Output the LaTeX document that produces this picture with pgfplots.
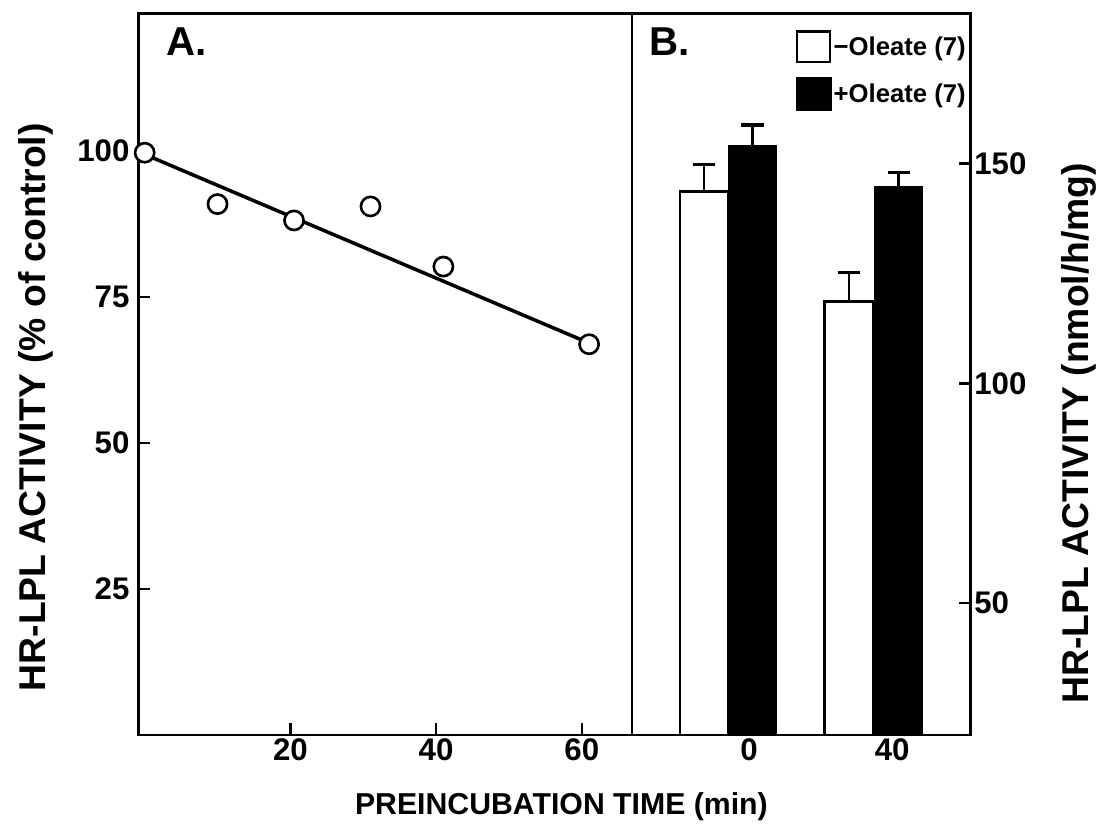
\documentclass[border=0pt]{standalone}
\usepackage{fontspec}
\setmainfont{Liberation Sans}
\usepackage{pgfplots}
\pgfplotsset{compat=1.18}

\pgfplotsset{
  panel/.style={
    scale only axis,
    axis line style={line width=2.8pt},
    tick align=inside,
    major tick length=12pt,
    tick style={line width=2.5pt, black},
    /pgf/number format/assume math mode=true,
    tick label style={font=\bfseries\fontsize{31}{31}\selectfont},
    label style={font=\bfseries\fontsize{37}{37}\selectfont},
  },
}

\begin{document}
\begin{tikzpicture}

% A: activity vs preincubation time
\begin{axis}[
  panel,
  name=a,
  width=490pt, height=716pt,
  xmin=-0.9, xmax=66.9,
  ymin=0, ymax=123.6,
  xtick={20,40,60},
  ytick={25,50,75,100},
  xtick pos=left, ytick pos=left,
  yticklabel style={xshift=-5pt},
  clip=false,
  ylabel={HR-LPL ACTIVITY (\% of control)},
  ylabel style={at={(axis description cs:-0.208,0.454)}, anchor=center},
  xlabel={PREINCUBATION TIME (min)},
  xlabel style={at={(axis description cs:0.857,-0.099)}, anchor=center,
    font=\bfseries\fontsize{30}{30}\selectfont},
]
\addplot[line width=3.5pt] coordinates {(0.4,99.2) (61,67.1)};
\addplot[only marks, mark=*, mark size=9.5pt,
  mark options={fill=white, draw=black, line width=2.6pt}] coordinates {
  (0,99.7)
  (10,90.9)
  (20.5,88.1)
  (31,90.5)
  (41,80.2)
  (61,66.9)
};
\node[font=\bfseries\fontsize{40}{40}\selectfont] at (rel axis cs:0.098,0.96) {A.};
% page margins: left, top and bottom edge of the figure
\path (axis description cs:-0.2796,-0.1285) (axis description cs:-0.2796,1.0182);
\end{axis}

% B: bars, -/+ oleate
\begin{axis}[
  panel,
  at={(a.south east)}, anchor=south west,
  width=336pt, height=716pt,
  xmin=0, xmax=336,
  ymin=20, ymax=184.2,
  ytick={50,100,150},
  ytick pos=right, yticklabel pos=right,
  xtick={116,258}, xticklabels={0,40},
  xtick style={draw=none},
  ylabel={HR-LPL ACTIVITY (nmol/h/mg)},
  ylabel style={at={(axis description cs:1.32,0.418)}, anchor=center},
  legend style={at={(axis cs:162,180.3)}, anchor=north west, draw=none, fill=none,
    inner sep=0pt, row sep=14pt,
    font=\bfseries\fontsize{25.5}{25.5}\selectfont},
  legend cell align=left,
]
\addplot[ybar, bar shift=0pt, bar width=48, fill=white, draw=black, line width=2.8pt,
  legend image code/.code={\draw[fill=white, draw=black, line width=2.5pt] (0pt,-15pt) rectangle (33pt,15pt);},
  error bars/.cd, y dir=plus, y explicit,
  error bar style={line width=2.5pt},
  error mark options={rotate=90, mark size=11pt, line width=3.5pt}]
  coordinates {(71.5,143.6) +- (0,6.2) (215,118.6) +- (0,6.6)};
\addlegendentry{−Oleate (7)}
\addplot[ybar, bar shift=0pt, bar width=48, fill=black, draw=black, line width=1pt,
  legend image code/.code={\fill[black] (0pt,-16pt) rectangle (34pt,16pt);},
  error bars/.cd, y dir=plus, y explicit,
  error bar style={line width=2.5pt},
  error mark options={rotate=90, mark size=11pt, line width=3.5pt}]
  coordinates {(119.5,154.1) +- (0,4.6) (264.5,144.7) +- (0,3.2)};
\addlegendentry{+Oleate (7)}
\node[font=\bfseries\fontsize{40}{40}\selectfont] at (rel axis cs:0.110,0.961) {B.};
% page margin: right edge of the figure
\path (axis description cs:1.4018,0.5);
\end{axis}
\end{tikzpicture}
\end{document}
